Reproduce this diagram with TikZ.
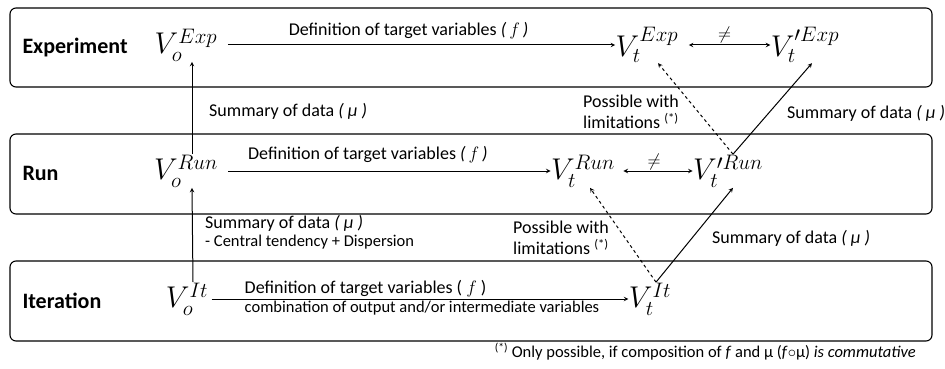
\RequirePackage{fix-cm}
\documentclass[tikz,border=0pt]{standalone}
\usepackage{amsmath}
\usepackage{fontspec}
\setmainfont{Carlito}
\usetikzlibrary{arrows}

\begin{document}
\begin{tikzpicture}[>=stealth, x=1pt, y=-1pt]
	\tikzstyle{layer} = [draw, rounded corners=6pt, line width=1.1pt]
	\tikzstyle{level} = [anchor=west, inner sep=0pt, font=\fontsize{22}{26}\selectfont\bfseries]
	\tikzstyle{var} = [inner sep=0pt, font=\fontsize{30}{34}\selectfont]
	\tikzstyle{lbl} = [inner sep=2pt, font=\fontsize{18}{21}\selectfont]
	\tikzstyle{small} = [inner sep=2pt, font=\fontsize{16.5}{19}\selectfont]
	\useasboundingbox (0,0) rectangle (945,369);
	% the three levels
	\draw[layer] (10,8) rectangle (932,87);
	\draw[layer] (10,134) rectangle (932,214);
	\draw[layer] (10,261) rectangle (932,341);
	\path[->, line width=1pt]
	node[level] (lexp) at (22,48) {Experiment}
	node[level] (lrun) at (22,173) {Run}
	node[level] (lit) at (22,301) {Iteration}
	node[var] (voexp) at (186,45) {$V_o^{Exp}$}
	node[var] (vtexp) at (647,45) {$V_t^{Exp}$}
	node[var] (vpexp) at (805,45) {$V^{\prime Exp}_t$}
	node[var] (vorun) at (186,171) {$V_o^{Run}$}
	node[var] (vtrun) at (583,171) {$V_t^{Run}$}
	node[var] (vprun) at (728,171) {$V^{\prime Run}_t$}
	node[var] (voit) at (187,299) {$V_o^{It}$}
	node[var] (vtit) at (650,299) {$V_t^{It}$}
	(voexp) edge[shorten <=10pt] node[lbl, above=3pt, pos=.48] {Definition of target variables \textit{(\,$f$\,)}} (vtexp)
	(vtexp) edge[<->, shorten <=10pt] node[lbl, above=-1pt] {$\neq$} (vpexp)
	(vorun) edge[shorten <=10pt] node[lbl, above=6pt, pos=.45] {Definition of target variables \textit{(\,$f$\,)}} (vtrun)
	(vtrun) edge[<->, shorten <=8pt] node[lbl, above=-1pt] {$\neq$} (vprun)
	(voit) edge[shorten <=3pt] node[lbl, anchor=south west, pos=.08] {Definition of target variables ( $f$ )}
		node[small, anchor=north west, pos=.08] {combination of output and/or intermediate variables} (vtit)
	([xshift=6pt]voit.north) edge ([xshift=6pt]vorun.south)
	([xshift=6pt]vorun.north) edge ([xshift=6pt]voexp.south)
	([xshift=6pt]vtit.north) edge[dashed] ([xshift=7pt]vtrun.south)
	([xshift=6pt]vtit.north) edge ([xshift=5pt]vprun.south)
	([xshift=5pt]vprun.north) edge[dashed] ([xshift=11pt]vtexp.south)
	([xshift=5pt]vprun.north) edge ([xshift=7pt]vpexp.south)
	;
	% labels of the vertical and diagonal arrows
	\node[lbl, anchor=west] (sumexp) at (207,111) {Summary of data \textit{( μ )}};
	\node[lbl, anchor=west] (sumrun) at (203,223) {Summary of data \textit{( μ )}};
	\node[small, anchor=north west] (disp) at (sumrun.south west) {- Central tendency + Dispersion};
	\node[lbl, anchor=west, align=left] (posexp) at (581,112) {Possible with\\limitations \textsuperscript{(*)}};
	\node[lbl, anchor=west] (sumpexp) at (785,113) {Summary of data \textit{( μ )}};
	\node[lbl, anchor=west, align=left] (posrun) at (511,238) {Possible with\\limitations \textsuperscript{(*)}};
	\node[lbl, anchor=west] (sumprun) at (710,238) {Summary of data \textit{( μ )}};
	\node[small, anchor=east] (note) at (918,352) {\textsuperscript{(*)} Only possible, if composition of \textit{f} and μ (\textit{f}$\circ$μ) \textit{is commutative}};
\end{tikzpicture}
\end{document}
